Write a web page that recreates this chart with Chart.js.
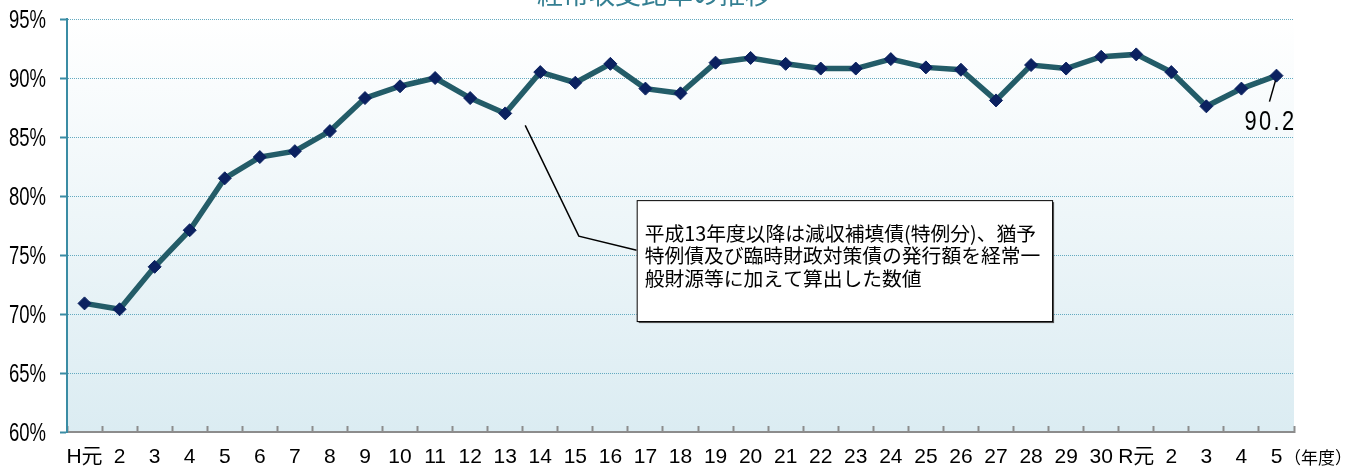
<!DOCTYPE html>
<html lang="ja">
<head>
<meta charset="utf-8">
<title>経常収支比率の推移</title>
<script src="https://cdn.jsdelivr.net/npm/chart.js@4.4.1/dist/chart.umd.min.js"></script>
<style>
  html, body { margin: 0; padding: 0; background: #fff; }
  #wrap { width: 1365px; height: 468px; }
</style>
</head>
<body>
<div id="wrap"><canvas id="ratioChart" width="1365" height="468"></canvas></div>
<script>
// 経常収支比率の推移 (平成元年度〜令和5年度)
const titleText = '経常収支比率の推移';
const years = ['H元', '2', '3', '4', '5', '6', '7', '8', '9', '10',
               '11', '12', '13', '14', '15', '16', '17', '18', '19', '20',
               '21', '22', '23', '24', '25', '26', '27', '28', '29', '30',
               'R元', '2', '3', '4', '5'];
const ratios = [70.9, 70.4, 74.0, 77.1, 81.5, 83.3, 83.8, 85.5, 88.3, 89.3,
                90.0, 88.3, 87.0, 90.5, 89.6, 91.2, 89.1, 88.7, 91.3, 91.7,
                91.2, 90.8, 90.8, 91.6, 90.9, 90.7, 88.1, 91.1, 90.8, 91.8,
                92.0, 90.5, 87.6, 89.1, 90.2];
const yTicks = [60, 65, 70, 75, 80, 85, 90, 95];
const unitLabel = '（年度）';
const noteLines = [
  '平成13年度以降は減収補填債(特例分)、猶予',
  '特例債及び臨時財政対策債の発行額を経常一',
  '般財源等に加えて算出した数値'
];

const SANS = "'Liberation Sans', Arial, 'Noto Sans CJK JP', sans-serif";
const JP = "'Noto Sans CJK JP', sans-serif";

// 横に詰めた文字を描く
function narrowText(ctx, text, x, y, size, sx, align) {
  ctx.save();
  ctx.translate(x, y);
  ctx.scale(sx, 1);
  ctx.font = size + 'px ' + SANS;
  ctx.textAlign = align;
  ctx.textBaseline = 'middle';
  ctx.fillText(text, 0, 0);
  ctx.restore();
}

// 背景のグラデーション、目盛ラベル、注記
const overlay = {
  id: 'overlay',
  beforeDraw(chart) {
    const { ctx, chartArea: a } = chart;
    const g = ctx.createLinearGradient(0, a.top, 0, a.bottom);
    g.addColorStop(0, '#ffffff');
    g.addColorStop(1, '#dbecf2');
    ctx.save();
    ctx.fillStyle = g;
    ctx.fillRect(a.left, a.top, a.right - a.left, a.bottom - a.top);
    ctx.restore();
  },
  afterDraw(chart) {
    const { ctx, scales: { x, y } } = chart;
    ctx.save();
    ctx.fillStyle = '#000';

    // 縦軸ラベル
    yTicks.forEach(v => narrowText(ctx, v + '%', 46, y.getPixelForValue(v) + 2, 25, 0.74, 'right'));

    // タイトル (上端で切れている)
    ctx.font = '26px ' + JP;
    ctx.fillStyle = '#347f92';
    ctx.textAlign = 'center';
    ctx.textBaseline = 'alphabetic';
    ctx.fillText(titleText, 654, 4);

    // 単位
    ctx.font = '17px ' + JP;
    ctx.fillStyle = '#000';
    ctx.textAlign = 'left';
    ctx.textBaseline = 'middle';
    ctx.fillText(unitLabel, 1284, 458);

    // 注記の引き出し線
    const px = i => x.getPixelForValue(i);
    ctx.strokeStyle = '#000';
    ctx.lineWidth = 1.5;
    ctx.beginPath();
    ctx.moveTo(px(12) + 20, y.getPixelForValue(ratios[12]) + 12);
    ctx.lineTo(px(14.1), y.getPixelForValue(76.6));
    ctx.lineTo(px(15.75), y.getPixelForValue(75.4));
    ctx.stroke();

    // 注記の枠
    const bx = px(15.75), bx2 = px(27.6);
    const by = y.getPixelForValue(79.65), by2 = y.getPixelForValue(69.4);
    ctx.fillStyle = '#555';
    ctx.fillRect(bx + 2, by + 2, bx2 - bx, by2 - by);
    ctx.fillStyle = '#fff';
    ctx.fillRect(bx, by, bx2 - bx, by2 - by);
    ctx.lineWidth = 1;
    ctx.strokeRect(bx + 0.5, by + 0.5, bx2 - bx, by2 - by);

    ctx.fillStyle = '#000';
    ctx.font = '19.8px ' + JP;
    ctx.textBaseline = 'middle';
    noteLines.forEach((t, i) => ctx.fillText(t, bx + 8, by + 33 + i * 22.5));

    // 最終年度の値ラベル
    const last = ratios.length - 1;
    const lx = px(last), ly = y.getPixelForValue(ratios[last]);
    ctx.beginPath();
    ctx.lineWidth = 1.5;
    ctx.moveTo(lx - 1, ly + 5);
    ctx.lineTo(lx - 7, ly + 26);
    ctx.stroke();
    ctx.letterSpacing = '3px';
    narrowText(ctx, ratios[last].toFixed(1), lx - 6, ly + 47, 28, 0.78, 'center');
    ctx.restore();
  }
};

new Chart(document.getElementById('ratioChart'), {
  type: 'line',
  data: {
    labels: years,
    datasets: [{
      data: ratios,
      borderColor: '#235c68',
      borderWidth: 5.5,
      tension: 0,
      pointStyle: 'rectRot',
      pointRadius: 6.5,
      pointBackgroundColor: '#0b2160',
      pointBorderColor: '#0b2160',
      pointBorderWidth: 1,
      clip: false
    }]
  },
  options: {
    responsive: false,
    devicePixelRatio: 1,
    animation: false,
    layout: { padding: { top: 19, right: 71, left: 0, bottom: 0 } },
    plugins: {
      legend: { display: false },
      title: { display: false },
      tooltip: { enabled: false }
    },
    scales: {
      x: {
        offset: true,
        grid: {
          offset: true,
          drawOnChartArea: false,
          tickLength: -6,
          color: '#8c8c8c',
          tickColor: '#8c8c8c',
          tickWidth: 2
        },
        border: { color: '#8c8c8c', width: 2 },
        ticks: {
          autoSkip: false,
          maxRotation: 0,
          color: '#000',
          padding: 19,
          font: { family: SANS, size: 21 }
        },
        afterFit: s => { s.height = 36; }
      },
      y: {
        min: 60,
        max: 95,
        afterBuildTicks: s => { s.ticks = yTicks.map(v => ({ value: v })); },
        grid: {
          color: '#63aac0',
          tickColor: '#3a8ca4',
          tickLength: 7,
          tickWidth: 2,
          tickBorderDash: []
        },
        border: { color: '#3a8ca4', width: 2, dash: [1, 1] },
        ticks: { display: false },
        afterFit: s => { s.width = 67; }
      }
    }
  },
  plugins: [overlay]
});
</script>
</body>
</html>
